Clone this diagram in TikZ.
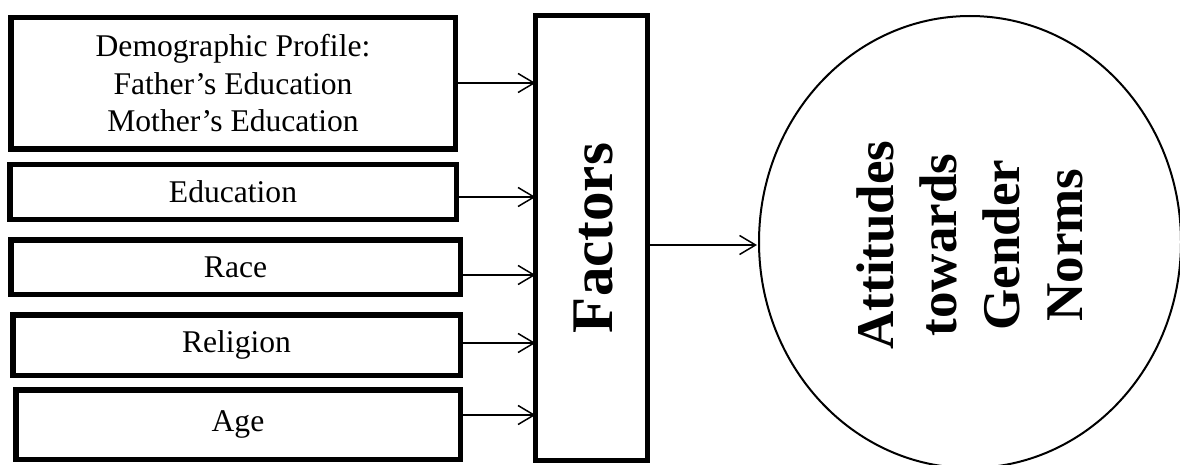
\documentclass[tikz,border=0pt]{standalone}
\usepackage{fontspec}
\setmainfont{Liberation Serif}
\usetikzlibrary{arrows.meta}
\begin{document}
\begin{tikzpicture}[x=1pt,y=-1pt,
  factorbox/.style={draw,line width=5.5pt,rectangle,inner sep=0pt,outer sep=0pt,align=center,
    font=\fontsize{31.6}{37.5}\selectfont},
  arr/.style={line width=1.5pt,-{Straight Barb[length=16pt,width=19pt,line width=1.5pt]}}]
\useasboundingbox (0,0) rectangle (1180,465);
\node[factorbox,minimum width=444.5pt,minimum height=131.5pt] (b1) at (233,83.5)
  {Demographic Profile:\\Father’s Education\\Mother’s Education};
\node[factorbox,minimum width=446.5pt,minimum height=54.5pt] (b2) at (233,192) {Education};
\node[factorbox,minimum width=449.5pt,minimum height=54.5pt] (b3) at (235.5,267) {Race};
\node[factorbox,minimum width=447.5pt,minimum height=60.5pt] (b4) at (236.5,345) {Religion};
\node[factorbox,minimum width=444.5pt,minimum height=69.5pt] (b5) at (238,424.5) {Age};
\node[draw,line width=5pt,rectangle,inner sep=0pt,outer sep=0pt,
  minimum width=112pt,minimum height=445pt] (fac) at (591.5,238) {};
\node[rotate=90,font=\fontsize{59}{70}\selectfont\bfseries] (factxt) at (593,238) {Factors};
\draw[line width=2pt] (970,242) ellipse [x radius=211, y radius=226];
\coordinate (circw) at (757,245);
\node[rotate=90,align=center,font=\fontsize{53}{63}\selectfont\bfseries] (att) at (970,245)
  {Attitudes\\towards\\Gender\\Norms};
\draw[arr] (b1.east |- 0,83) -- (fac.west |- 0,83);
\draw[arr] (b2.east |- 0,197) -- (fac.west |- 0,197);
\draw[arr] (b3.east |- 0,275) -- (fac.west |- 0,275);
\draw[arr] (b4.east |- 0,343) -- (fac.west |- 0,343);
\draw[arr] (b5.east |- 0,415) -- (fac.west |- 0,415);
\draw[arr] (fac.east |- 0,245) -- (circw);
\end{tikzpicture}
\end{document}
